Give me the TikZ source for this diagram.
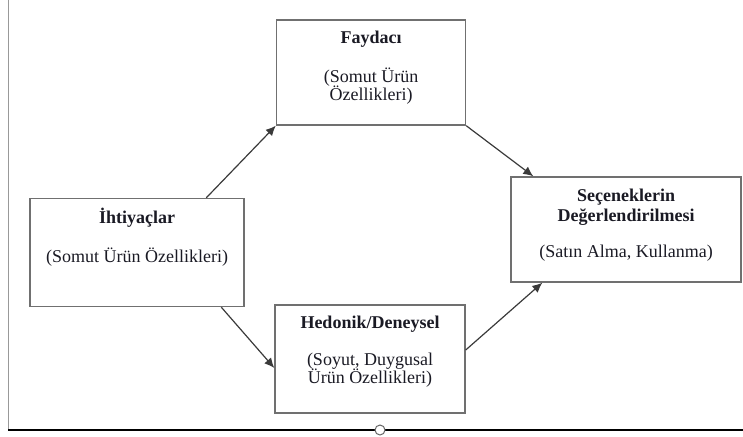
\documentclass[tikz,border=0pt]{standalone}
\usepackage{fontspec}
\setmainfont{Liberation Serif}
\usetikzlibrary{arrows.meta,calc}
\definecolor{boxgray}{HTML}{707070}
\definecolor{linegray}{HTML}{3A3A3A}
\definecolor{txt}{HTML}{1A1A24}
\tikzset{
  box/.style={draw=boxgray, line width=1.4pt, minimum width=#1, inner sep=0pt},
  ttl/.style={font=\fontsize{18}{20}\selectfont\bfseries, text=txt, align=center, inner sep=0pt},
  sub/.style={font=\fontsize{18}{18.5}\selectfont, text=txt, align=center, inner sep=0pt},
  conn/.style={draw=linegray, line width=1.2pt, -{Latex[length=10pt,width=9pt]}}
}
\begin{document}
\begin{tikzpicture}[x=1pt,y=-1pt]
\useasboundingbox (0,0) rectangle (743,436);
% frame
\coordinate (tl) at (8,0);
\coordinate (bl) at (8,430);
\coordinate (br) at (743,430);
\coordinate (knob) at (380,430);
\draw[draw=black!40, line width=1pt] (tl) -- (bl);
\draw[black, line width=1.6pt] (bl) -- (br);
\draw[draw=black!60, fill=white, line width=1pt] (knob) circle (5);
% boxes
\node[box=189pt, minimum height=105pt] (fay) at (371,72.5) {};
\node[box=214pt, minimum height=108pt] (iht) at (137,252.5) {};
\node[box=230pt, minimum height=105pt] (sec) at (626,229.5) {};
\node[box=190pt, minimum height=108pt] (hed) at (370,359) {};
% texts
\node[ttl] (faytitle) at (371,39) {Faydacı};
\node[sub] (faysub) at (371,86) {(Somut Ürün\\Özellikleri)};
\node[ttl] (ihttitle) at (137,218) {İhtiyaçlar};
\node[sub] (ihtsub) at (137,257) {(Somut Ürün Özellikleri)};
\node[ttl] (sectitle) at (626,207) {Seçeneklerin\\Değerlendirilmesi};
\node[sub] (secsub) at (626,253) {(Satın Alma, Kullanma)};
\node[ttl] (hedtitle) at (370,324) {Hedonik/Deneysel};
\node[sub] (hedsub) at (370,370) {(Soyut, Duygusal\\Ürün Özellikleri)};
% connectors
\draw[conn] ($(iht.north west)+(177,0)$) -- (fay.south west);
\draw[conn] (fay.south east) -- ($(sec.north west)+(23,0)$);
\draw[conn] ($(iht.south west)+(192,0)$) -- ($(hed.west)+(0,9)$);
\draw[conn] ($(hed.east)+(0,-9)$) -- ($(sec.south west)+(32,0)$);
\end{tikzpicture}
\end{document}
